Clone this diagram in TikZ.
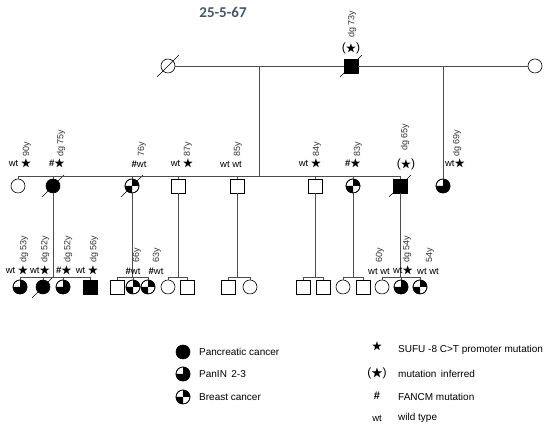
\documentclass[tikz,border=0pt]{standalone}
\usepackage{fontspec}
\usepackage{amssymb}
\usepackage{graphicx}
\setmainfont{Liberation Sans}
\newfontfamily\titlefont{Carlito}
\definecolor{titleblue}{HTML}{44546A}

\newcommand{\stella}{\scalebox{1.15}{$\bigstar$}}
\newcommand{\inferita}{{\large(}\stella{\large)}}
\newcommand{\fancm}{\textbf{\#}}

% riempimenti dei simboli
\newcommand{\panin}[1]{%
  \fill (#1.center) -- ++(0,7pt) arc[start angle=90, end angle=-180, radius=7pt] -- cycle;
  \draw[sym] (#1.center) circle[radius=7pt];}
\newcommand{\seno}[1]{%
  \fill (#1.center) -- ++(7pt,0) arc[start angle=0, end angle=90, radius=7pt] -- cycle;
  \fill (#1.center) -- ++(-7pt,0) arc[start angle=180, end angle=270, radius=7pt] -- cycle;
  \draw[sym] (#1.center) circle[radius=7pt];}
\newcommand{\morto}[1]{%
  \draw[sym] ([shift={(-11pt,-11pt)}]#1.center) -- ([shift={(11pt,11pt)}]#1.center);}

\tikzset{
  sym/.style={draw=black, line width=0.6pt},
  ind/.style={sym, inner sep=0pt, outer sep=0pt, minimum size=14pt},
  male/.style={ind, rectangle},
  female/.style={ind, circle},
  line/.style={draw=black!70, line width=0.7pt},
  genmark/.style={inner sep=0pt, font=\fontsize{9.5}{10}\selectfont},
  age/.style={inner sep=0pt, rotate=90, anchor=west, text=black!80, font=\fontsize{9}{10}\selectfont},
  legtext/.style={inner sep=0pt, anchor=west, font=\fontsize{10}{12}\selectfont},
}

\begin{document}
\begin{tikzpicture}[x=1pt, y=1pt]
  \useasboundingbox (0,0) rectangle (550,427);

  % Titolo
  \node[text=titleblue, font=\titlefont\bfseries\fontsize{15}{18}\selectfont] (titolo) at (223,415) {25-5-67};

  % Generazione I
  \node[female] (I1) at (168,361) {};
  \node[male, fill=black] (I2) at (351,361) {};
  \node[female] (I3) at (535,361) {};
  \draw[line] (I1) -- (I2) -- (I3);
  \morto{I1}
  \morto{I2}
  \node[genmark] (m-I2) at (351,379) {\inferita};
  \node[age] (a-I2) at (352,389) {dg 73y};

  \coordinate (c1) at (259,361);
  \coordinate (c2) at (443,361);
  \coordinate (sib2) at (0,251);
  \coordinate (sib3) at (0,150);

  % Generazione II
  \node[female] (II1) at (18,241) {};
  \node[female, fill=black] (II2) at (53,241) {};
  \node[female] (II3) at (132,241) {};
  \node[male] (II4) at (178,241) {};
  \node[male] (II5) at (237,241) {};
  \node[male] (II6) at (315,241) {};
  \node[female] (II7) at (353,241) {};
  \node[male, fill=black] (II8) at (400,241) {};
  \node[female] (II9) at (443,241) {};
  \seno{II3}
  \seno{II7}
  \panin{II9}
  \morto{II2}
  \morto{II3}
  \morto{II8}

  \draw[line] (c1) -- (c1 |- sib2);
  \draw[line] (c2) -- (II9.north);
  \draw[line] (II1.north) -- (II1.north |- sib2) -- (II8.north |- sib2) -- (II8.north);
  \foreach \n in {II2,II3,II4,II5,II6,II7}
    \draw[line] (\n.north) -- (\n.north |- sib2);

  \node[genmark] (m-II1) at (20,263) {wt \stella};
  \node[age] (a-II1) at (27,270) {90y};
  \node[genmark] (m-II2) at (57,263) {\fancm\stella};
  \node[age] (a-II2) at (61,270) {dg 75y};
  \node[genmark] (m-II3) at (139,263) {\fancm wt};
  \node[age] (a-II3) at (142,270) {76y};
  \node[genmark] (m-II4) at (182,263) {wt \stella};
  \node[age] (a-II4) at (188,270) {87y};
  \node[genmark] (m-II5) at (231,263) {wt wt};
  \node[age] (a-II5) at (238,270) {85y};
  \node[genmark] (m-II6) at (310,263) {wt \stella};
  \node[age] (a-II6) at (317,270) {84y};
  \node[genmark] (m-II7) at (353,263) {\fancm\stella};
  \node[age] (a-II7) at (358,270) {83y};
  \node[genmark] (m-II8) at (406,263) {\inferita};
  \node[age] (a-II8) at (405,276) {dg 65y};
  \node[genmark] (m-II9) at (455,263) {wt\stella};
  \node[age] (a-II9) at (457,270) {dg 69y};

  % Generazione III
  \node[female] (IIIa1) at (20,140) {};
  \node[female, fill=black] (IIIa2) at (43,140) {};
  \node[female] (IIIa3) at (63,140) {};
  \node[male, fill=black] (IIIa4) at (90,140) {};
  \node[male] (IIIb1) at (117,140) {};
  \node[female] (IIIb2) at (133,140) {};
  \node[female] (IIIb3) at (148,140) {};
  \node[female] (IIIc1) at (168,140) {};
  \node[male] (IIIc2) at (187,140) {};
  \node[male] (IIId1) at (228,140) {};
  \node[female] (IIId2) at (250,140) {};
  \node[male] (IIIe1) at (303,140) {};
  \node[male] (IIIe2) at (323,140) {};
  \node[female] (IIIf1) at (343,140) {};
  \node[male] (IIIf2) at (363,140) {};
  \node[female] (IIIg1) at (382,140) {};
  \node[female] (IIIg2) at (401,140) {};
  \node[female] (IIIg3) at (420,140) {};
  \panin{IIIa1}
  \panin{IIIa3}
  \seno{IIIb2}
  \seno{IIIb3}
  \panin{IIIg2}
  \seno{IIIg3}
  \morto{IIIa2}

  % linee di discendenza
  \draw[line] (II2.south) -- (II2.south |- sib3);
  \draw[line] (II3.south) -- (II3.south |- sib3);
  \draw[line] (II4.south) -- (II4.south |- sib3);
  \draw[line] (II5.south) -- (II5.south |- sib3);
  \draw[line] (II6.south) -- (II6.south |- sib3);
  \draw[line] (II7.south) -- (II7.south |- sib3);
  \draw[line] (II8.south) -- (II8.south |- sib3);
  \draw[line] (IIIa1.north) -- (IIIa1.north |- sib3) -- (IIIa4.north |- sib3) -- (IIIa4.north);
  \draw[line] (IIIb1.north) -- (IIIb1.north |- sib3) -- (IIIb3.north |- sib3) -- (IIIb3.north);
  \draw[line] (IIIc1.north) -- (IIIc1.north |- sib3) -- (IIIc2.north |- sib3) -- (IIIc2.north);
  \draw[line] (IIId1.north) -- (IIId1.north |- sib3) -- (IIId2.north |- sib3) -- (IIId2.north);
  \draw[line] (IIIe1.north) -- (IIIe1.north |- sib3) -- (IIIe2.north |- sib3) -- (IIIe2.north);
  \draw[line] (IIIf1.north) -- (IIIf1.north |- sib3) -- (IIIf2.north |- sib3) -- (IIIf2.north);
  \draw[line] (IIIg1.north) -- (IIIg1.north |- sib3) -- (IIIg3.north |- sib3) -- (IIIg3.north);
  \foreach \n in {IIIa2,IIIa3,IIIb2,IIIg2}
    \draw[line] (\n.north) -- (\n.north |- sib3);

  \node[genmark] (m-IIIa1) at (17,156) {wt \stella};
  \node[age] (a-IIIa1) at (24,164) {dg 53y};
  \node[genmark] (m-IIIa2) at (40,156) {wt\stella};
  \node[age] (a-IIIa2) at (45,164) {dg 52y};
  \node[genmark] (m-IIIa3) at (64,156) {\fancm\stella};
  \node[age] (a-IIIa3) at (68,164) {dg 52y};
  \node[genmark] (m-IIIa4) at (87,156) {wt \stella};
  \node[age] (a-IIIa4) at (94,164) {dg 56y};
  \node[genmark] (m-IIIb2) at (133,156) {\fancm wt};
  \node[age] (a-IIIb2) at (137,164) {66y};
  \node[genmark] (m-IIIb3) at (156,156) {\fancm wt};
  \node[age] (a-IIIb3) at (157,164) {63y};
  \node[genmark] (m-IIIg1) at (379,156) {wt wt};
  \node[age] (a-IIIg1) at (380,164) {60y};
  \node[genmark] (m-IIIg2) at (403,156) {wt\stella};
  \node[age] (a-IIIg2) at (407,164) {dg 54y};
  \node[genmark] (m-IIIg3) at (428,156) {wt wt};
  \node[age] (a-IIIg3) at (430,164) {54y};

  % Legenda
  \node[female, fill=black] (L1) at (183,75) {};
  \node[female] (L2) at (183,53) {};
  \node[female] (L3) at (183,30) {};
  \panin{L2}
  \seno{L3}
  \node[legtext] (t-L1) at (199,75) {Pancreatic cancer};
  \node[legtext] (t-L2) at (199,53) {PanIN\, 2-3};
  \node[legtext] (t-L3) at (199,30) {Breast cancer};

  \node[genmark] (s-L4) at (377,80) {\stella};
  \node[genmark, font=\fontsize{10.5}{12}\selectfont] (s-L5) at (377,54) {\inferita};
  \node[genmark, font=\fontsize{11}{12}\selectfont] (s-L6) at (377,31) {\fancm};
  \node[genmark] (s-L7) at (377,9) {wt};
  \node[legtext] (t-L4) at (398,77) {SUFU -8 C>T promoter mutation};
  \node[legtext] (t-L5) at (398,53) {mutation\, inferred};
  \node[legtext] (t-L6) at (398,30) {FANCM mutation};
  \node[legtext] (t-L7) at (398,9) {wild type};
\end{tikzpicture}
\end{document}
